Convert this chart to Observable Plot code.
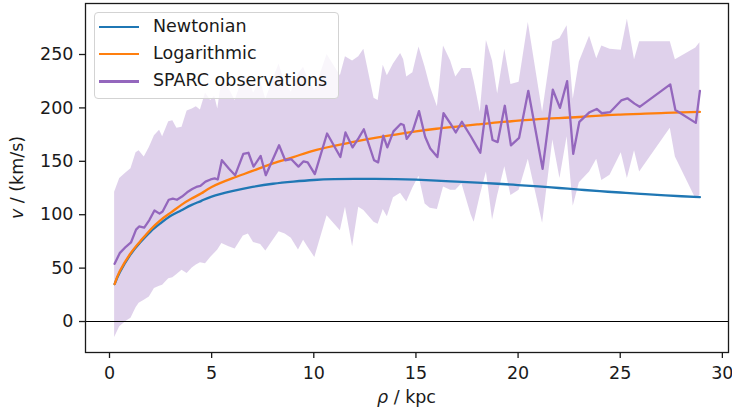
<!DOCTYPE html>
<html>
<head>
<meta charset="utf-8">
<script src="https://cdn.jsdelivr.net/npm/d3@7"></script>
<script src="https://cdn.jsdelivr.net/npm/@observablehq/plot@0.6"></script>
<style>
  body { margin: 0; background: #fff; }
  #chart { position: relative; width: 732px; height: 412px; font-family: "DejaVu Sans", sans-serif; }
  .legend { position: absolute; left: 94px; top: 12px; width: 245px; height: 87px; box-sizing: border-box;
            background: rgba(255,255,255,0.8); border: 1px solid #d3d3d3; border-radius: 4px; }
  .row { position: absolute; left: 0; height: 20px; width: 100%; font-size: 17.5px; color: #1a1a1a; }
  .swatch { position: absolute; left: 4px; top: 9px; width: 40px; height: 2.3px; }
  .lab { position: absolute; left: 58px; top: -1px; white-space: nowrap; line-height: 20px; }
</style>
</head>
<body>
<div id="chart"></div>
<script>
// ---- SPARC observations ----
const sparcRadius = [0.25,0.5,0.8,1.05,1.3,1.45,1.7,1.95,2.2,2.45,2.6,2.9,3.1,3.3,3.55,3.8,4.05,4.25,4.45,4.7,
  4.95,5.15,5.3,5.5,5.85,6.15,6.55,6.8,7.05,7.4,7.65,8.3,8.6,8.9,9.25,9.5,9.7,10.05,10.65,11.3,
  11.55,11.9,12.2,12.45,12.95,13.15,13.4,13.6,13.9,14.25,14.4,14.55,14.85,15.15,15.45,15.7,16.05,16.35,16.7,16.95,
  17.25,17.7,17.85,18.15,18.45,18.75,19.0,19.35,19.65,20.05,20.5,21.2,21.7,22.05,22.4,22.7,23.0,23.5,23.85,24.1,
  24.5,25.05,25.35,25.7,25.95,27.45,27.7,28.7,28.9];
const sparcVelocity = [54,64,70,74,86,89,88,95,104,101,103,114,115,114,117,121,124,126,127,131,
  133,134,133,151,143,137,157,158,145,155,137,165,151,152,145,150,149,138,176,154,
  177,163,172,180,151,149,174,163,178,185,184,171,179,197,173,162,154,195,185,177,
  187,173,168,158,202,170,168,202,165,172,216,143,217,200,225,157,187,196,199,195,
  196,207,209,204,201,222,198,186,216];
const sparcLower = [-15,-5,0,3,13,17,20,23,31,33,34,40,41,44,48,45,50,53,55,54,
  60,64,67,73,70,68,80,82,74,72,66,84,82,78,67,76,70,60,99,85,
  107,70,107,104,93,91,105,98,116,120,116,112,125,136,110,106,105,126,123,123,
  129,100,93,118,140,95,118,145,118,123,152,92,170,134,173,108,130,140,152,132,
  137,158,134,160,140,181,154,115,118];
const sparcUpper = [121,134,139,143,158,160,154,163,174,179,173,187,188,181,182,197,199,201,198,214,
  207,211,199,226,218,207,229,229,214,225,208,241,222,215,232,238,228,216,250,230,
  248,244,248,255,209,207,240,230,241,251,245,229,233,257,238,220,201,258,244,229,
  237,237,225,196,263,244,213,255,222,224,280,196,262,265,277,208,243,267,246,258,
  255,254,283,245,262,262,245,256,261];

// ---- model curves ----
const modelRadius = [0.25,0.5,1,1.5,2,2.5,3,3.5,4,4.5,5,6,7,8,9,10,11,12,13,14,15,16,17,18,19,20,21,22,23,24,25,26,27,28,28.9];
const newtonianVelocity = [35,46,62,74,84,92,99,104,109,113,117,122,126,129,131,132.5,133.3,133.6,133.6,133.3,
  132.8,132,131,130,129,127.8,126.5,125,123.5,122,120.8,119.5,118.3,117.3,116.5];
const logarithmicVelocity = [35,47,63,75,86,95,102,109,115,120,126,134,141,148,154,160,164.5,168.5,172,175,
  178,180.5,182.5,184.5,186.5,188,189.5,190.5,191.5,192.8,193.7,194.5,195.2,195.8,196.3];

// ---- ticks & legend labels ----
const xTicks = [0,5,10,15,20,25,30];
const yTicks = [0,50,100,150,200,250];
const seriesNames = ["Newtonian","Logarithmic","SPARC observations"];
const seriesColors = ["#1f77b4","#ff7f0e","#9467bd"];

const sparc = sparcRadius.map((r,i) => ({r, v: sparcVelocity[i], lo: sparcLower[i], hi: sparcUpper[i]}));
const model = modelRadius.map((r,i) => ({r, newton: newtonianVelocity[i], log: logarithmicVelocity[i]}));

const plot = Plot.plot({
  width: 732, height: 412,
  marginLeft: 85, marginRight: 4, marginTop: 3, marginBottom: 60,
  style: { fontFamily: "DejaVu Sans, sans-serif", fontSize: "17.5px", color: "#1a1a1a", background: "#fff", overflow: "visible" },
  x: { domain: [-1.175, 30.3] },
  y: { domain: [-29, 297.75] },
  marks: [
    Plot.areaY(sparc, { x: "r", y1: "lo", y2: "hi", fill: seriesColors[2], fillOpacity: 0.3 }),
    Plot.ruleY([0], { stroke: "#000", strokeWidth: 1.1 }),
    Plot.line(model, { x: "r", y: "newton", stroke: seriesColors[0], strokeWidth: 2.3, curve: "natural" }),
    Plot.line(model, { x: "r", y: "log", stroke: seriesColors[1], strokeWidth: 2.3, curve: "natural" }),
    Plot.line(sparc, { x: "r", y: "v", stroke: seriesColors[2], strokeWidth: 2.3 }),
    Plot.axisX({ ticks: xTicks, tickSize: 6, tickPadding: 8, label: null, tickFormat: d => String(d), strokeWidth: 1.3 }),
    Plot.axisY({ ticks: yTicks, tickSize: 6, tickPadding: 6, label: null, tickFormat: d => String(d), strokeWidth: 1.3 }),
    Plot.frame({ stroke: "#1a1a1a", strokeWidth: 1.3 })
  ]
});

const svg = d3.select(plot);
const xl = svg.append("text").attr("x", 406.5).attr("y", 403).attr("text-anchor", "middle")
  .attr("font-size", "17.5px").attr("fill", "#1a1a1a");
xl.append("tspan").attr("font-style", "italic").text("ρ");
xl.append("tspan").text(" / kpc");
const yl = svg.append("text").attr("transform", "translate(23,177.5) rotate(-90)").attr("text-anchor", "middle")
  .attr("font-size", "17.5px").attr("fill", "#1a1a1a");
yl.append("tspan").attr("font-style", "italic").text("v");
yl.append("tspan").text(" / (km/s)");

const chart = document.getElementById("chart");
chart.appendChild(plot);

const legend = document.createElement("div");
legend.className = "legend";
seriesNames.forEach((name, i) => {
  const row = document.createElement("div");
  row.className = "row";
  row.style.top = (4 + i * 27.2) + "px";
  const sw = document.createElement("div");
  sw.className = "swatch";
  sw.style.background = seriesColors[i];
  const lab = document.createElement("span");
  lab.className = "lab";
  lab.textContent = name;
  row.appendChild(sw); row.appendChild(lab);
  legend.appendChild(row);
});
chart.appendChild(legend);
</script>
</body>
</html>
